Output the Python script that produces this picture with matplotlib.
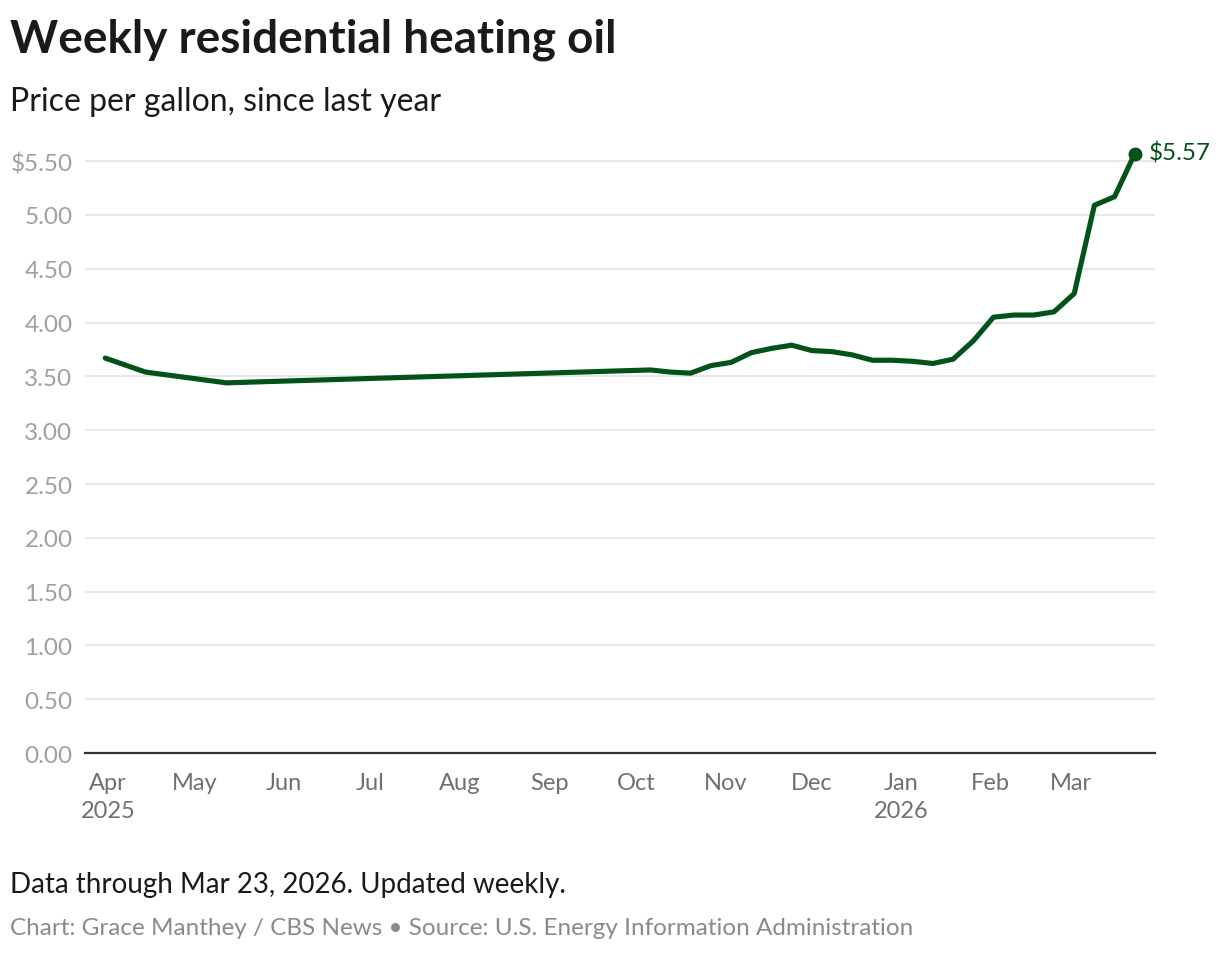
import numpy as np
import matplotlib
matplotlib.use("Agg")
import matplotlib.pyplot as plt

# weekly EIA residential heating oil prices, $/gallon
dates = ["2025-03-31", "2025-04-14", "2025-05-12",
         "2025-10-06", "2025-10-13", "2025-10-20", "2025-10-27",
         "2025-11-03", "2025-11-10", "2025-11-17", "2025-11-24",
         "2025-12-01", "2025-12-08", "2025-12-15", "2025-12-22", "2025-12-29",
         "2026-01-05", "2026-01-12", "2026-01-19", "2026-01-26",
         "2026-02-02", "2026-02-09", "2026-02-16", "2026-02-23",
         "2026-03-02", "2026-03-09", "2026-03-16", "2026-03-23"]
prices = [3.67, 3.54, 3.44,
          3.56, 3.54, 3.53, 3.60,
          3.63, 3.72, 3.76, 3.79,
          3.74, 3.73, 3.70, 3.65, 3.65,
          3.64, 3.62, 3.66, 3.83,
          4.05, 4.07, 4.07, 4.10,
          4.27, 5.09, 5.17, 5.57]

y_ticks = [0, 0.5, 1, 1.5, 2, 2.5, 3, 3.5, 4, 4.5, 5, 5.5]
y_labels = ["0.00", "0.50", "1.00", "1.50", "2.00", "2.50", "3.00",
            "3.50", "4.00", "4.50", "5.00", "$5.50"]
month_ticks = ["2025-04-01", "2025-05-01", "2025-06-01", "2025-07-01", "2025-08-01",
               "2025-09-01", "2025-10-01", "2025-11-01", "2025-12-01", "2026-01-01",
               "2026-02-01", "2026-03-01"]
month_labels = ["Apr\n2025", "May", "Jun", "Jul", "Aug", "Sep", "Oct", "Nov",
                "Dec", "Jan\n2026", "Feb", "Mar"]

plt.rcParams['font.family'] = ['Lato', 'DejaVu Sans']
green = "#03521a"

x = np.array(dates, dtype="datetime64[D]")
fig = plt.figure(figsize=(12.2, 9.54), dpi=100)
ax = fig.add_axes([0.0697, 0.2096, 0.877, 0.6317])

ax.plot(x, prices, color=green, lw=3.7, solid_capstyle="round", solid_joinstyle="round", zorder=3)
ax.plot(x[-1], prices[-1], "o", color=green, markersize=9, zorder=4, clip_on=False)
ax.annotate("$%.2f" % prices[-1], (x[-1], prices[-1]), xytext=(10, 1), textcoords="offset points",
            color=green, fontsize=17.5, va="center", ha="left", annotation_clip=False)

ax.set_ylim(0, 5.6)
ax.set_xlim(np.datetime64("2025-03-24"), np.datetime64("2026-03-30"))
ax.set_yticks(y_ticks)
ax.set_yticklabels(y_labels)
ax.set_xticks(np.array(month_ticks, dtype="datetime64[D]"))
ax.set_xticklabels(month_labels, linespacing=1.4, va="top")
ax.grid(axis="y", color="#e3e3e3", lw=1.2)
ax.set_axisbelow(True)
for s in ["top", "right", "left"]:
    ax.spines[s].set_visible(False)
ax.spines["bottom"].set_color("#333333")
ax.spines["bottom"].set_linewidth(1.6)
ax.tick_params(axis="y", length=0, pad=9, labelsize=17.5, labelcolor="#a0a0a0")
ax.tick_params(axis="x", length=0, pad=14, labelsize=17, labelcolor="#707070")

fig.text(0.008, 0.958, "Weekly residential heating oil", fontsize=33, fontweight="bold",
         color="#1a1a1a", va="center", ha="left")
fig.text(0.008, 0.893, "Price per gallon, since last year", fontsize=23,
         color="#1a1a1a", va="center", ha="left")
fig.text(0.008, 0.072, "Data through Mar 23, 2026. Updated weekly.", fontsize=20,
         color="#1a1a1a", va="center", ha="left")
fig.text(0.008, 0.027, "Chart: Grace Manthey / CBS News \u2022 Source: U.S. Energy Information Administration",
         fontsize=17.5, color="#8a8a8a", va="center", ha="left")

fig.savefig("out.png", dpi=100)
